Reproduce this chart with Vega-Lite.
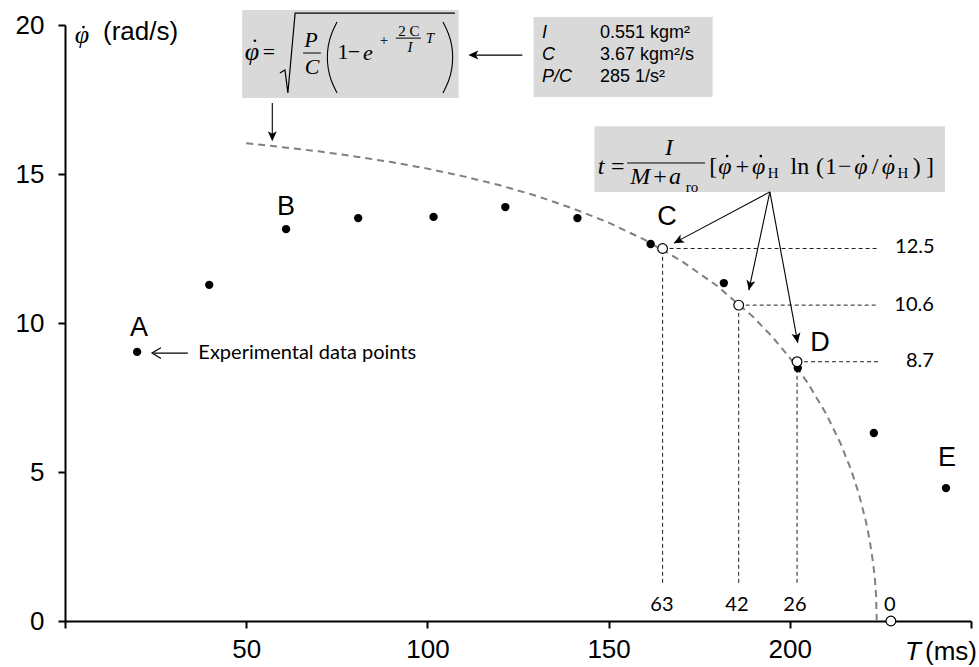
{
  "$schema": "https://vega.github.io/schema/vega-lite/v6.json",
  "width": 906,
  "height": 596,
  "autosize": {"type": "none"},
  "padding": {"left": 65, "top": 25, "right": 8, "bottom": 46},
  "background": "white",
  "config": {
    "view": {"stroke": null},
    "axis": {
      "domainColor": "#000", "domainWidth": 2, "tickColor": "#000", "tickWidth": 2, "tickSize": 7,
      "labelFont": "Liberation Sans", "labelFontSize": 26, "labelColor": "#000", "grid": false, "title": null
    }
  },
  "datasets": {
    "boxes": [
      {"x": 48.9, "x2": 108.6, "y": 20.5, "y2": 17.55},
      {"x": 129.3, "x2": 178.7, "y": 20.27, "y2": 17.58},
      {"x": 146.1, "x2": 242.8, "y": 16.6, "y2": 14.4}
    ],
    "curve": [
      {"x": 50, "y": 16.03}, {"x": 60, "y": 15.9}, {"x": 70, "y": 15.76}, {"x": 80, "y": 15.59},
      {"x": 90, "y": 15.4}, {"x": 100, "y": 15.18}, {"x": 110, "y": 14.92}, {"x": 120, "y": 14.62},
      {"x": 130, "y": 14.27}, {"x": 140, "y": 13.85}, {"x": 150, "y": 13.37}, {"x": 160, "y": 12.79},
      {"x": 170, "y": 12.09}, {"x": 180, "y": 11.24}, {"x": 190, "y": 10.19}, {"x": 195, "y": 9.56},
      {"x": 200, "y": 8.83}, {"x": 205, "y": 7.98}, {"x": 210, "y": 6.96}, {"x": 214, "y": 5.96},
      {"x": 217, "y": 5.04}, {"x": 219, "y": 4.29}, {"x": 221, "y": 3.34}, {"x": 222, "y": 2.74},
      {"x": 223, "y": 1.94}, {"x": 223.5, "y": 1.38}, {"x": 223.8, "y": 0.87}, {"x": 224, "y": 0}
    ],
    "refs": [
      {"x": 164.9, "x2": 224.5, "y": 12.5, "y2": 12.5},
      {"x": 185.9, "x2": 224.5, "y": 10.6, "y2": 10.6},
      {"x": 202.0, "x2": 224.5, "y": 8.7, "y2": 8.7},
      {"x": 164.9, "x2": 164.9, "y": 1.28, "y2": 12.5},
      {"x": 185.9, "x2": 185.9, "y": 1.28, "y2": 10.6},
      {"x": 202.0, "x2": 202.0, "y": 1.28, "y2": 8.7}
    ],
    "arrows": [
      {"x": 33.9, "y": 8.99, "x2": 24.5, "y2": 8.99},
      {"x": 57.2, "y": 17.38, "x2": 57.2, "y2": 16.3},
      {"x": 126.2, "y": 18.99, "x2": 112.0, "y2": 18.99},
      {"x": 194.5, "y": 14.4, "x2": 168.0, "y2": 12.68},
      {"x": 194.5, "y": 14.4, "x2": 188.7, "y2": 11.1},
      {"x": 194.5, "y": 14.4, "x2": 202.2, "y2": 9.33}
    ],
    "measured": [
      {"x": 19.9, "y": 9.03}, {"x": 39.8, "y": 11.28}, {"x": 61.0, "y": 13.15}, {"x": 80.9, "y": 13.52},
      {"x": 101.7, "y": 13.56}, {"x": 121.5, "y": 13.89}, {"x": 141.4, "y": 13.52}, {"x": 161.6, "y": 12.65},
      {"x": 181.8, "y": 11.34}, {"x": 202.2, "y": 8.49}, {"x": 223.2, "y": 6.31}, {"x": 243.1, "y": 4.46}
    ],
    "computed": [
      {"x": 164.9, "y": 12.5}, {"x": 185.9, "y": 10.6}, {"x": 202.0, "y": 8.7}, {"x": 227.9, "y": 0}
    ],
    "parens": [
      {"g": "l", "o": 1, "x": 75.06, "y": 20.1}, {"g": "l", "o": 2, "x": 73.4, "y": 19.7}, {"g": "l", "o": 3, "x": 72.57, "y": 19.3},
      {"g": "l", "o": 4, "x": 72.3, "y": 18.93}, {"g": "l", "o": 5, "x": 72.57, "y": 18.52}, {"g": "l", "o": 6, "x": 73.4, "y": 18.12},
      {"g": "l", "o": 7, "x": 75.06, "y": 17.72},
      {"g": "r", "o": 1, "x": 104.3, "y": 20.1}, {"g": "r", "o": 2, "x": 105.96, "y": 19.7}, {"g": "r", "o": 3, "x": 106.8, "y": 19.3},
      {"g": "r", "o": 4, "x": 107.06, "y": 18.93}, {"g": "r", "o": 5, "x": 106.8, "y": 18.52}, {"g": "r", "o": 6, "x": 105.96, "y": 18.12},
      {"g": "r", "o": 7, "x": 104.3, "y": 17.72}
    ]
  },
  "encoding": {
    "x": {
      "field": "x", "type": "quantitative",
      "scale": {"domain": [0, 250], "nice": false, "zero": false},
      "axis": {"values": [0, 50, 100, 150, 200, 250], "labelExpr": "datum.value == 0 || datum.value == 250 ? '' : datum.label", "labelPadding": 8, "title": null}
    },
    "y": {
      "field": "y", "type": "quantitative",
      "scale": {"domain": [0, 20], "nice": false},
      "axis": {"values": [0, 5, 10, 15, 20], "labelPadding": 14, "title": null}
    }
  },
  "layer": [
    {"data": {"name": "boxes"}, "mark": {"type": "rect", "color": "#d9d9d9"},
     "encoding": {"x2": {"field": "x2"}, "y2": {"field": "y2"}}},
    {"data": {"name": "curve"}, "mark": {"type": "line", "color": "#808080", "strokeWidth": 2, "strokeDash": [7, 5]}},
    {"data": {"name": "refs"}, "mark": {"type": "rule", "color": "#222", "strokeWidth": 1, "strokeDash": [4, 3]},
     "encoding": {"x2": {"field": "x2"}, "y2": {"field": "y2"}}},
    {"data": {"name": "arrows"}, "mark": {"type": "rule", "color": "#000", "strokeWidth": 1.1},
     "encoding": {"x2": {"field": "x2"}, "y2": {"field": "y2"}}},
    {"data": {"values": [{"x": 24.0, "y": 8.99}]},
     "mark": {"type": "point", "shape": "M-1,-0.6L0,0L-1,0.6", "filled": false, "stroke": "#000", "strokeWidth": 1.2, "size": 324, "angle": 180, "opacity": 1}},
    {"data": {"values": [{"x": 111.3, "y": 18.99}]},
     "mark": {"type": "point", "shape": "M0,0L-1,-0.45L-0.75,0L-1,0.45Z", "filled": true, "color": "#000", "size": 400, "angle": 180, "opacity": 1}},
    {"data": {"values": [{"x": 57.2, "y": 16.1}]},
     "mark": {"type": "point", "shape": "M0,0L-1,-0.45L-0.75,0L-1,0.45Z", "filled": true, "color": "#000", "size": 400, "angle": 90, "opacity": 1}},
    {"data": {"values": [{"x": 168.0, "y": 12.68}]},
     "mark": {"type": "point", "shape": "M0,0L-1,-0.45L-0.75,0L-1,0.45Z", "filled": true, "color": "#000", "size": 400, "angle": 152, "opacity": 1}},
    {"data": {"values": [{"x": 188.7, "y": 11.1}]},
     "mark": {"type": "point", "shape": "M0,0L-1,-0.45L-0.75,0L-1,0.45Z", "filled": true, "color": "#000", "size": 400, "angle": 102, "opacity": 1}},
    {"data": {"values": [{"x": 202.2, "y": 9.33}]},
     "mark": {"type": "point", "shape": "M0,0L-1,-0.45L-0.75,0L-1,0.45Z", "filled": true, "color": "#000", "size": 400, "angle": 79.5, "opacity": 1}},
    {"data": {"name": "measured"}, "mark": {"type": "point", "filled": true, "color": "#000", "size": 70, "opacity": 1}},
    {"data": {"name": "computed"}, "mark": {"type": "point", "filled": true, "fill": "#fff", "stroke": "#000", "strokeWidth": 1.2, "size": 95, "opacity": 1}},
    {"data": {"values": [{"x": 59.3, "y": 18.39}, {"x": 60.7, "y": 18.49}, {"x": 61.5, "y": 17.72}, {"x": 63.5, "y": 20.4}, {"x": 107.6, "y": 20.4}]},
     "mark": {"type": "line", "color": "#000", "strokeWidth": 1.2}},
    {"data": {"name": "parens"}, "mark": {"type": "line", "color": "#000", "strokeWidth": 1.1, "interpolate": "basis"},
     "encoding": {"detail": {"field": "g"}, "order": {"field": "o", "type": "quantitative"}}},
    {"data": {"values": [
        {"x": 65.7, "x2": 70.6, "y": 19.06, "y2": 19.06},
        {"x": 91.3, "x2": 98.2, "y": 19.56, "y2": 19.56},
        {"x": 155.1, "x2": 176.6, "y": 15.37, "y2": 15.37}]},
     "mark": {"type": "rule", "color": "#000", "strokeWidth": 1},
     "encoding": {"x2": {"field": "x2"}, "y2": {"field": "y2"}}},
    {"data": {"values": [
        {"x": 52.4, "y": 19.47}, {"x": 5.1, "y": 19.93},
        {"x": 182.7, "y": 15.6}, {"x": 192.0, "y": 15.6}, {"x": 220.2, "y": 15.6}, {"x": 227.8, "y": 15.6}]},
     "mark": {"type": "point", "filled": true, "color": "#000", "size": 7, "opacity": 1}},
    {"data": {"values": [{"x": 51.6, "y": 19.1, "t": "φ"}, {"x": 4.7, "y": 19.65, "t": "φ"}]},
     "mark": {"type": "text", "font": "Liberation Serif", "fontStyle": "italic", "fontSize": 26, "color": "#000"},
     "encoding": {"text": {"field": "t"}}},
    {"data": {"values": [
        {"x": 67.9, "y": 19.5, "t": "P"}, {"x": 68.2, "y": 18.59, "t": "C"}, {"x": 83.6, "y": 19.05, "t": "e"}]},
     "mark": {"type": "text", "font": "Liberation Serif", "fontStyle": "italic", "fontSize": 22, "color": "#000"},
     "encoding": {"text": {"field": "t"}}},
    {"data": {"values": [
        {"x": 147.9, "y": 15.23, "t": "t"}, {"x": 166.7, "y": 15.87, "t": "I"}, {"x": 158.7, "y": 14.9, "t": "M"}, {"x": 168.3, "y": 14.9, "t": "a"},
        {"x": 182.1, "y": 15.23, "t": "φ"}, {"x": 191.4, "y": 15.23, "t": "φ"}, {"x": 219.6, "y": 15.23, "t": "φ"}, {"x": 227.2, "y": 15.23, "t": "φ"}]},
     "mark": {"type": "text", "font": "Liberation Serif", "fontStyle": "italic", "fontSize": 24, "color": "#000"},
     "encoding": {"text": {"field": "t"}}},
    {"data": {"values": [
        {"x": 56.3, "y": 19.09, "t": "="}, {"x": 76.7, "y": 19.09, "t": "1"}, {"x": 79.7, "y": 19.09, "t": "−"}]},
     "mark": {"type": "text", "font": "Liberation Serif", "fontSize": 22, "color": "#000"},
     "encoding": {"text": {"field": "t"}}},
    {"data": {"values": [
        {"x": 152.5, "y": 15.23, "t": "="}, {"x": 164.2, "y": 14.9, "t": "+"}, {"x": 178.9, "y": 15.23, "t": "["}, {"x": 186.9, "y": 15.23, "t": "+"},
        {"x": 202.8, "y": 15.23, "t": "ln"}, {"x": 208.3, "y": 15.23, "t": "("}, {"x": 211.4, "y": 15.23, "t": "1"},
        {"x": 215.2, "y": 15.23, "t": "−"}, {"x": 223.5, "y": 15.23, "t": "/"}, {"x": 235.0, "y": 15.23, "t": ")"},
        {"x": 238.7, "y": 15.23, "t": "]"}]},
     "mark": {"type": "text", "font": "Liberation Serif", "fontSize": 24, "color": "#000"},
     "encoding": {"text": {"field": "t"}}},
    {"data": {"values": [{"x": 173.0, "y": 14.56, "t": "ro"}, {"x": 195.4, "y": 15.03, "t": "H"}, {"x": 231.2, "y": 15.03, "t": "H"}]},
     "mark": {"type": "text", "font": "Liberation Serif", "fontSize": 15, "color": "#000"},
     "encoding": {"text": {"field": "t"}}},
    {"data": {"values": [{"x": 88.0, "y": 19.5, "t": "+"}, {"x": 94.9, "y": 19.8, "t": "2 C"}]},
     "mark": {"type": "text", "font": "Liberation Serif", "fontSize": 15, "color": "#000"},
     "encoding": {"text": {"field": "t"}}},
    {"data": {"values": [{"x": 95.2, "y": 19.26, "t": "I"}, {"x": 100.7, "y": 19.56, "t": "T"}]},
     "mark": {"type": "text", "font": "Liberation Serif", "fontStyle": "italic", "fontSize": 15, "color": "#000"},
     "encoding": {"text": {"field": "t"}}},
    {"data": {"values": [
        {"x": 20.4, "y": 9.83, "t": "A"}, {"x": 61.0, "y": 13.9, "t": "B"}, {"x": 166.1, "y": 13.56, "t": "C"},
        {"x": 208.3, "y": 9.33, "t": "D"}, {"x": 243.4, "y": 5.47, "t": "E"}]},
     "mark": {"type": "text", "font": "Liberation Sans", "fontSize": 27, "color": "#000"},
     "encoding": {"text": {"field": "t"}}},
    {"data": {"values": [{"x": 10.5, "y": 19.77, "t": "(rad/s)"}, {"x": 237.3, "y": -1.04, "t": "(ms)"}]},
     "mark": {"type": "text", "font": "Liberation Sans", "fontSize": 26, "align": "left", "color": "#000"},
     "encoding": {"text": {"field": "t"}}},
    {"data": {"values": [{"x": 231.8, "y": -1.04, "t": "T"}]},
     "mark": {"type": "text", "font": "Liberation Sans", "fontStyle": "italic", "fontSize": 26, "align": "left", "color": "#000"},
     "encoding": {"text": {"field": "t"}}},
    {"data": {"values": [{"x": 131.6, "y": 19.73, "t": "I"}, {"x": 131.6, "y": 18.99, "t": "C"}, {"x": 131.6, "y": 18.26, "t": "P/C"}]},
     "mark": {"type": "text", "font": "Liberation Sans", "fontStyle": "italic", "fontSize": 18, "align": "left", "color": "#000"},
     "encoding": {"text": {"field": "t"}}},
    {"data": {"values": [{"x": 147.6, "y": 19.73, "t": "0.551 kgm²"}, {"x": 147.6, "y": 18.99, "t": "3.67 kgm²/s"}, {"x": 147.6, "y": 18.26, "t": "285 1/s²"}]},
     "mark": {"type": "text", "font": "Liberation Sans", "fontSize": 18, "align": "left", "color": "#000"},
     "encoding": {"text": {"field": "t"}}},
    {"data": {"values": [{"x": 36.8, "y": 8.99, "t": "Experimental data points"}]},
     "mark": {"type": "text", "font": "Lato", "fontSize": 20, "align": "left", "color": "#000"},
     "encoding": {"text": {"field": "t"}}},
    {"data": {"values": [
        {"x": 234.5, "y": 12.55, "t": "12.5"}, {"x": 234.3, "y": 10.6, "t": "10.6"}, {"x": 235.9, "y": 8.72, "t": "8.7"},
        {"x": 164.7, "y": 0.54, "t": "63"}, {"x": 185.4, "y": 0.54, "t": "42"}, {"x": 201.4, "y": 0.54, "t": "26"}, {"x": 227.6, "y": 0.54, "t": "0"}]},
     "mark": {"type": "text", "font": "Lato", "fontSize": 20, "color": "#000"},
     "encoding": {"text": {"field": "t"}}}
  ]
}
